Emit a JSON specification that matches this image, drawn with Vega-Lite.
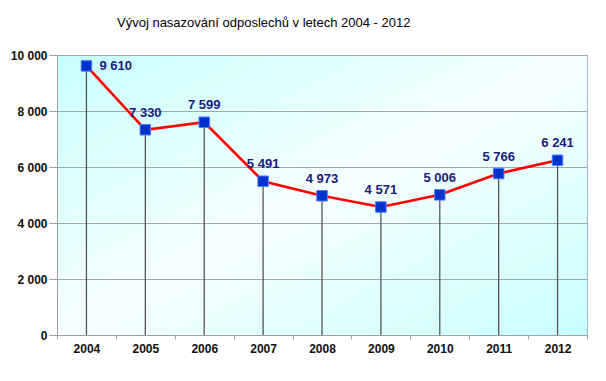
{
  "$schema": "https://vega.github.io/schema/vega-lite/v6.json",
  "width": 530,
  "height": 280,
  "autosize": {"type": "none"},
  "padding": {"left": 57, "top": 55, "right": 19, "bottom": 46},
  "background": "white",
  "title": {
    "text": "Vývoj nasazování odposlechů v letech 2004 - 2012",
    "anchor": "start",
    "frame": "group",
    "dx": 60,
    "offset": 9,
    "baseline": "alphabetic",
    "font": "Liberation Sans",
    "fontSize": 13,
    "fontWeight": "normal",
    "color": "#000000"
  },
  "data": {
    "values": [
      {"year": "2004", "value": 9610},
      {"year": "2005", "value": 7330},
      {"year": "2006", "value": 7599},
      {"year": "2007", "value": 5491},
      {"year": "2008", "value": 4973},
      {"year": "2009", "value": 4571},
      {"year": "2010", "value": 5006},
      {"year": "2011", "value": 5766},
      {"year": "2012", "value": 6241}
    ]
  },
  "encoding": {
    "x": {
      "field": "year",
      "type": "ordinal",
      "scale": {"type": "band", "paddingInner": 0, "paddingOuter": 0},
      "axis": {
        "title": null,
        "labelAngle": 0,
        "tickBand": "extent",
        "tickSize": 4,
        "tickColor": "#a0a0a0",
        "domainColor": "#a0a0a0",
        "labelFont": "Liberation Sans",
        "labelFontSize": 12,
        "labelFontWeight": "bold",
        "labelColor": "#111111",
        "labelPadding": 4,
        "grid": false
      }
    },
    "y": {
      "field": "value",
      "type": "quantitative",
      "scale": {"domain": [0, 10000], "nice": false},
      "axis": {
        "title": null,
        "values": [0, 2000, 4000, 6000, 8000, 10000],
        "format": ",d",
        "tickSize": 8,
        "tickColor": "#a0a0a0",
        "domainColor": "#a0a0a0",
        "gridColor": "#a6a6a6",
        "gridWidth": 1,
        "labelFont": "Liberation Sans",
        "labelFontSize": 12,
        "labelFontWeight": "bold",
        "labelColor": "#111111",
        "labelPadding": 2
      }
    }
  },
  "layer": [
    {
      "mark": {"type": "rule", "color": "#555555", "strokeWidth": 1.3},
      "encoding": {"y2": {"datum": 0}}
    },
    {
      "mark": {"type": "line", "color": "#ff0000", "strokeWidth": 2.6}
    },
    {
      "mark": {"type": "square", "filled": true, "fill": "#0033cc", "stroke": "#4d79ff", "strokeWidth": 1, "size": 110, "opacity": 1}
    },
    {
      "transform": [{"filter": "datum.year != '2004'"}],
      "mark": {"type": "text", "align": "center", "baseline": "middle", "dy": -17, "font": "Liberation Sans", "fontSize": 13, "fontWeight": "bold", "color": "#1a1a80"},
      "encoding": {"text": {"field": "value", "type": "quantitative", "format": ",d"}}
    },
    {
      "transform": [{"filter": "datum.year == '2004'"}],
      "mark": {"type": "text", "align": "left", "baseline": "middle", "dx": 13, "dy": 0, "font": "Liberation Sans", "fontSize": 13, "fontWeight": "bold", "color": "#1a1a80"},
      "encoding": {"text": {"field": "value", "type": "quantitative", "format": ",d"}}
    }
  ],
  "config": {
    "locale": {"number": {"decimal": ",", "thousands": " ", "grouping": [3], "currency": ["", " Kč"]}},
    "view": {
      "stroke": "#9db5e0",
      "strokeWidth": 1,
      "fill": {
        "gradient": "linear",
        "x1": 0, "y1": 0, "x2": 1, "y2": 1,
        "stops": [
          {"offset": 0, "color": "#c8ffff"},
          {"offset": 0.5, "color": "#f6ffff"},
          {"offset": 1, "color": "#c8ffff"}
        ]
      }
    }
  }
}
